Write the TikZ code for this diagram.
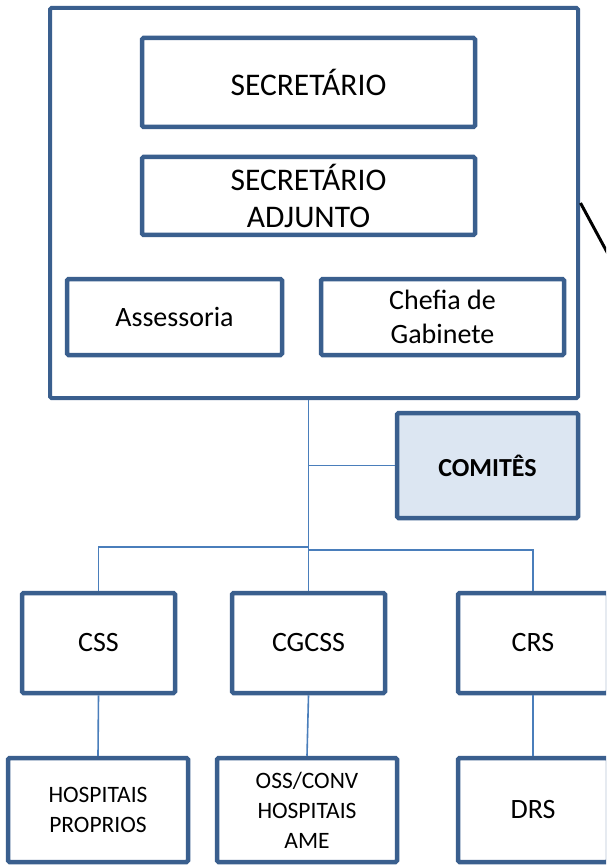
\documentclass[tikz,border=0pt]{standalone}
\usepackage{fontspec}
\setmainfont{Carlito}
\definecolor{bdr}{HTML}{3A5F8E}
\definecolor{lnk}{HTML}{4A7EBB}
\definecolor{cfill}{HTML}{DCE6F2}
\begin{document}
\begin{tikzpicture}[x=1pt,y=-1pt,
  box/.style={draw=bdr,line width=4.5pt,rounded corners=1.5pt,fill=white,align=center,inner sep=0pt},
  link/.style={draw=lnk,line width=1.6pt},
  big/.style={font=\fontsize{31.5}{37}\selectfont},
  mid/.style={font=\fontsize{28}{34}\selectfont},
  small/.style={font=\fontsize{23.5}{30}\selectfont}]
\clip (0,0) rectangle (606,866);
\fill[white] (0,0) rectangle (606,866);
% outer
\node[box,minimum width=528pt,minimum height=390pt,line width=4pt] (outer) at (314,203) {};
\node[box,big,minimum width=333pt,minimum height=89pt] (secr) at (308.5,82.5) {SECRETÁRIO};
\node[box,big,minimum width=333pt,minimum height=78pt] (adj) at (308.5,196) {SECRETÁRIO\\ADJUNTO};
\node[box,mid,minimum width=215pt,minimum height=76pt] (asse) at (174.5,317) {Assessoria};
\node[box,mid,minimum width=243pt,minimum height=76pt] (chef) at (442.5,317) {Chefia de\\Gabinete};
\node[box,fill=cfill,font=\fontsize{26}{30}\selectfont\bfseries,minimum width=181pt,minimum height=105pt] (com) at (487.5,465.5) {COMITÊS};
% level 2
\node[box,mid,minimum width=153pt,minimum height=100pt] (css) at (98.5,643) {CSS};
\node[box,mid,minimum width=153pt,minimum height=100pt] (cgcss) at (308.5,643) {CGCSS};
\node[box,mid,minimum width=150pt,minimum height=100pt] (crs) at (533,643) {CRS};
% level 3
\node[box,small,minimum width=180pt,minimum height=104pt] (hosp) at (98,810) {HOSPITAIS\\PROPRIOS};
\node[box,small,minimum width=180pt,minimum height=104pt] (oss) at (307,810) {OSS/CONV\\HOSPITAIS\\AME};
\node[box,mid,minimum width=150pt,minimum height=104pt] (drs) at (533,810) {DRS};
% connectors
\coordinate (barL) at (308.5,547);
\coordinate (barR) at (308.5,550);
\path[link] (outer.south -| cgcss.north) -- (cgcss.north);
\path[link] (outer.south -| cgcss.north) |- (com.west);
\path[link] (barL) -| (css.north);
\path[link] (barR) -| (crs.north);
\path[link] (css.south) -- (hosp.north);
\path[link] (cgcss.south) -- (oss.north);
\path[link] (crs.south) -- (drs.north);
% diagonal line
\coordinate (d1) at (580.5,203);
\coordinate (d2) at (614,265);
\draw[line width=3pt] (d1) -- (d2);
\end{tikzpicture}
\end{document}
